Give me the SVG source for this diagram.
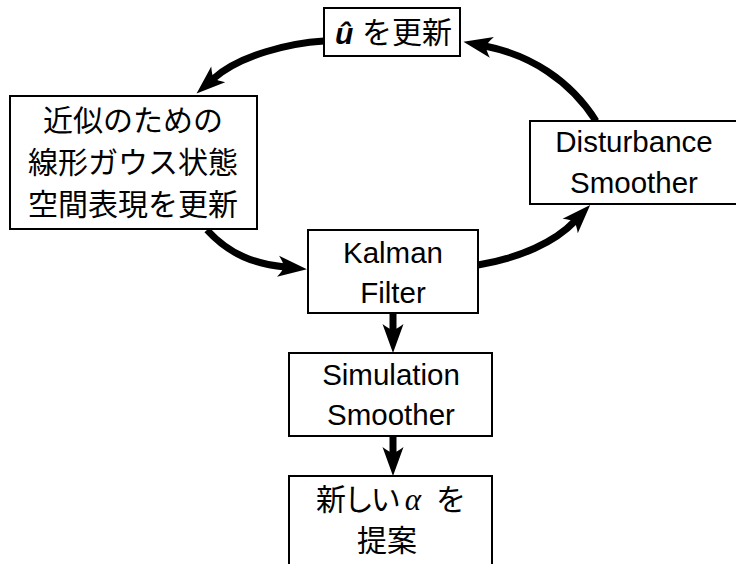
<svg xmlns="http://www.w3.org/2000/svg" width="736" height="564" viewBox="0 0 736 564">
<style>
.box{fill:#fff;stroke:#000;stroke-width:2}
.en{font-family:"Liberation Sans",Arial,sans-serif;font-size:29.5px;fill:#000;text-anchor:middle}
.jp{font-family:"Liberation Sans","Noto Sans CJK JP",sans-serif;font-size:30px;fill:#000}
.palt{font-feature-settings:"palt"}
.conn{fill:none;stroke:#000;stroke-width:7}
</style>
<defs>
<marker id="ah" markerUnits="userSpaceOnUse" viewBox="-10 -12 36 24" markerWidth="36" markerHeight="24" refX="0" refY="0" orient="auto">
<path d="M22,0 L-7,-10.5 Q-2,-4 -1,0 Q-2,4 -7,10.5 Z" fill="#000"/>
</marker>
</defs>
<rect width="736" height="564" fill="#fff"/>
<g id="connectors">
<path class="conn" d="M324,41 C290,43 240,55 213,79" marker-end="url(#ah)"/>
<path class="conn" d="M596,121 C570,80 530,55 485,46" marker-end="url(#ah)"/>
<path class="conn" d="M478,265 C520,258 555,242 575,221" marker-end="url(#ah)"/>
<path class="conn" d="M207,230 C230,255 255,264 285,267" marker-end="url(#ah)"/>
<path class="conn" d="M393,313 L393,331" marker-end="url(#ah)"/>
<path class="conn" d="M393,436 L393,454" marker-end="url(#ah)"/>
</g>
<g id="node-update-u">
<rect class="box" x="324" y="8" width="136" height="48"/>
<text x="335" y="44" font-family="Liberation Sans,Arial,sans-serif" font-size="30" font-weight="bold" font-style="italic">û</text>
<text class="jp" x="362" y="43" font-size="29">を更新</text>
</g>
<g id="node-linear-gaussian">
<rect class="box" x="10" y="96" width="247" height="133"/>
<text class="jp" x="133" y="131" text-anchor="middle">近似のための</text>
<text class="jp" x="133" y="173" text-anchor="middle">線形ガウス状態</text>
<text class="jp" x="133" y="215" text-anchor="middle">空間表現を更新</text>
</g>
<g id="node-disturbance">
<rect class="box" x="530" y="121" width="210" height="83"/>
<text class="en" x="634" y="152">Disturbance</text>
<text class="en" x="634" y="193">Smoother</text>
</g>
<g id="node-kalman">
<rect class="box" x="308" y="230" width="170" height="83"/>
<text class="en" x="393" y="263">Kalman</text>
<text class="en" x="393" y="303">Filter</text>
</g>
<g id="node-simulation">
<rect class="box" x="289" y="353" width="203" height="83"/>
<text class="en" x="391" y="385">Simulation</text>
<text class="en" x="391" y="425">Smoother</text>
</g>
<g id="node-propose">
<rect class="box" x="289" y="476" width="203" height="100"/>
<text class="jp palt" x="316" y="510" font-size="29">新しい</text>
<text x="413" y="510" font-family="Liberation Serif,serif" font-size="31" font-style="italic" text-anchor="middle">α</text>
<text class="jp" x="451" y="510" font-size="29" text-anchor="middle">を</text>
<text class="jp" x="387" y="551" font-size="29" text-anchor="middle">提案</text>
</g>
</svg>
